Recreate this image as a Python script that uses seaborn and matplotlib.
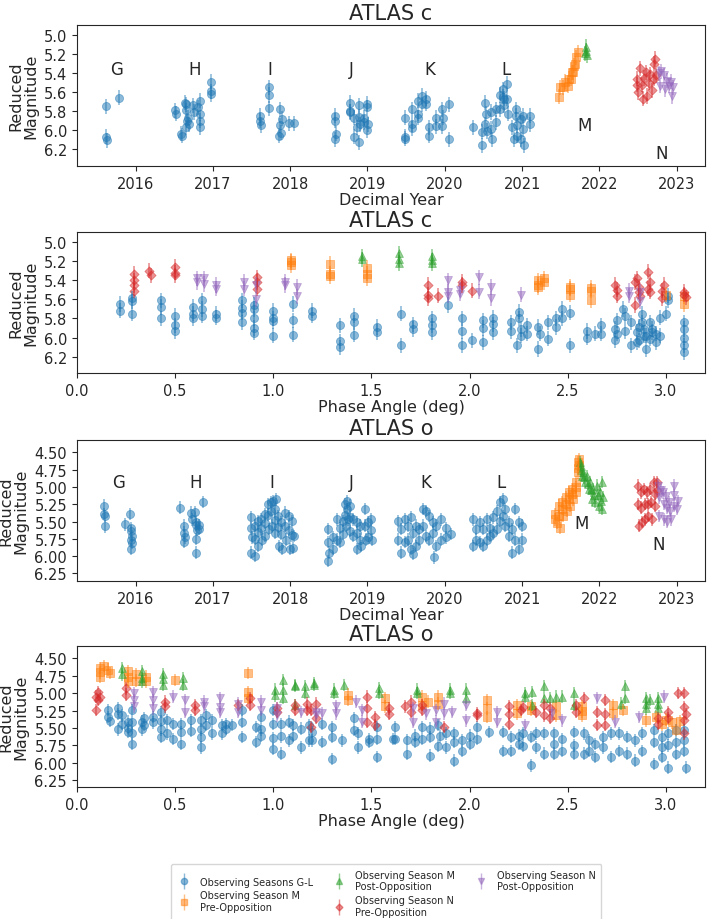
import matplotlib
matplotlib.use("Agg")
import matplotlib.pyplot as plt
from matplotlib.lines import Line2D
import seaborn as sns

# ---- data (decimal year / phase angle, reduced magnitude) ----

# ATLAS c vs decimal year
C_YEAR_GL = [(2015.62, 5.75), (2015.62, 6.07), (2015.63, 6.11), (2015.79, 5.66),
             (2016.51, 5.79), (2016.52, 5.83), (2016.59, 6.04), (2016.60, 6.06),
             (2016.64, 5.71), (2016.65, 5.73), (2016.65, 5.79), (2016.66, 5.90), (2016.65, 5.97),
             (2016.68, 5.87), (2016.69, 5.94), (2016.74, 5.74), (2016.75, 5.81), (2016.81, 5.76),
             (2016.83, 5.83), (2016.83, 5.97), (2016.84, 5.69), (2016.84, 5.90),
             (2016.97, 5.49), (2016.97, 5.59), (2016.98, 5.62),
             (2017.61, 5.85), (2017.61, 5.90), (2017.62, 5.95), (2017.72, 5.55), (2017.72, 5.63),
             (2017.73, 5.77), (2017.87, 5.78), (2017.87, 5.95), (2017.88, 6.03), (2017.86, 6.06),
             (2017.89, 5.88), (2017.98, 5.93), (2018.05, 5.93),
             (2018.58, 5.85), (2018.58, 5.90), (2018.59, 6.04), (2018.58, 6.10),
             (2018.77, 5.71), (2018.77, 5.80), (2018.78, 5.81), (2018.83, 5.87), (2018.83, 6.07),
             (2018.86, 5.97), (2018.89, 5.74), (2018.89, 5.86), (2018.90, 5.94), (2018.89, 6.13),
             (2018.95, 5.87), (2018.95, 5.92), (2019.00, 5.72), (2019.00, 5.76), (2019.01, 5.94),
             (2019.00, 6.00),
             (2019.48, 5.87), (2019.48, 6.07), (2019.49, 6.09), (2019.57, 5.78), (2019.57, 5.94),
             (2019.58, 5.98), (2019.65, 5.69), (2019.65, 5.83), (2019.66, 5.87), (2019.70, 5.64),
             (2019.70, 5.73), (2019.76, 5.67), (2019.76, 5.72), (2019.79, 5.97), (2019.79, 6.06),
             (2019.88, 5.87), (2019.88, 5.96), (2019.97, 5.78), (2019.98, 5.87), (2019.97, 5.96),
             (2020.05, 5.73), (2020.05, 6.10),
             (2020.37, 5.97), (2020.48, 6.02), (2020.48, 6.16), (2020.52, 5.71), (2020.53, 5.83),
             (2020.52, 5.94), (2020.54, 6.01), (2020.60, 5.81), (2020.60, 5.99), (2020.61, 6.10),
             (2020.66, 5.78), (2020.66, 5.92), (2020.71, 5.63), (2020.71, 5.78), (2020.75, 5.57),
             (2020.75, 5.65), (2020.76, 5.67), (2020.77, 5.74), (2020.81, 5.51), (2020.81, 5.67),
             (2020.82, 5.83), (2020.87, 5.97), (2020.90, 6.10), (2020.92, 5.78), (2020.92, 5.85),
             (2020.93, 5.95), (2020.93, 6.06), (2020.98, 5.88), (2020.98, 6.10), (2021.01, 5.85),
             (2021.01, 5.99), (2021.02, 6.16), (2021.10, 5.85), (2021.10, 5.94)]
C_YEAR_M_PRE = [(2021.48, 5.65), (2021.49, 5.55), (2021.53, 5.55), (2021.56, 5.49), (2021.60, 5.53),
                (2021.61, 5.46), (2021.63, 5.46), (2021.65, 5.39), (2021.66, 5.39), (2021.67, 5.32),
                (2021.69, 5.30), (2021.70, 5.23), (2021.72, 5.18)]
C_YEAR_M_POST = [(2021.82, 5.19), (2021.83, 5.16), (2021.83, 5.12), (2021.84, 5.21)]
C_YEAR_N_PRE = [(2022.48, 5.52), (2022.49, 5.46), (2022.50, 5.60), (2022.53, 5.35), (2022.55, 5.52),
                (2022.56, 5.67), (2022.58, 5.45), (2022.60, 5.39), (2022.62, 5.64), (2022.64, 5.50),
                (2022.66, 5.41), (2022.68, 5.58), (2022.70, 5.46), (2022.71, 5.30), (2022.72, 5.25),
                (2022.73, 5.42)]
C_YEAR_N_POST = [(2022.77, 5.40), (2022.78, 5.53), (2022.80, 5.38), (2022.83, 5.42), (2022.85, 5.57),
                 (2022.88, 5.48), (2022.90, 5.53), (2022.92, 5.49), (2022.94, 5.64), (2022.95, 5.55)]

# ATLAS c vs phase angle
C_PHASE_GL = [(0.22, 5.65), (0.22, 5.72), (0.28, 5.59), (0.28, 5.62), (0.28, 5.75),
              (0.43, 5.61), (0.43, 5.68), (0.43, 5.80), (0.50, 5.77), (0.50, 5.87), (0.50, 5.93),
              (0.59, 5.68), (0.59, 5.75), (0.59, 5.80), (0.64, 5.61), (0.64, 5.70), (0.64, 5.77),
              (0.71, 5.75), (0.71, 5.79), (0.84, 5.61), (0.84, 5.69), (0.84, 5.74), (0.84, 5.84),
              (0.90, 5.66), (0.90, 5.70), (0.90, 5.80), (0.90, 5.90), (0.90, 5.95),
              (1.00, 5.72), (1.00, 5.80), (1.00, 5.83), (1.00, 5.98), (1.10, 5.65), (1.10, 5.82),
              (1.10, 5.97), (1.20, 5.72), (1.20, 5.77), (1.34, 5.87), (1.34, 6.04), (1.34, 6.10),
              (1.41, 5.77), (1.41, 5.84), (1.41, 5.97), (1.53, 5.89), (1.53, 5.94),
              (1.65, 5.75), (1.65, 6.08), (1.71, 5.86), (1.71, 5.91), (1.81, 5.80), (1.81, 5.87),
              (1.81, 5.94), (1.89, 5.66), (1.96, 5.80), (1.96, 5.93), (1.96, 6.08), (2.01, 6.03),
              (2.07, 5.82), (2.07, 5.90), (2.07, 6.05), (2.12, 5.79), (2.12, 5.86), (2.12, 5.94),
              (2.21, 5.84), (2.21, 5.93), (2.24, 6.08), (2.25, 5.73), (2.25, 5.80), (2.26, 5.91),
              (2.26, 5.98), (2.29, 5.87), (2.29, 5.96), (2.35, 5.89), (2.35, 6.12), (2.36, 5.96),
              (2.40, 5.84), (2.40, 6.01), (2.44, 5.80), (2.44, 5.89), (2.47, 5.70), (2.47, 5.80),
              (2.51, 6.08), (2.51, 5.74), (2.60, 5.93), (2.60, 6.00), (2.64, 5.96), (2.67, 5.87),
              (2.67, 5.96), (2.74, 5.91), (2.74, 6.03), (2.75, 5.82), (2.75, 5.96), (2.78, 5.70),
              (2.79, 5.77), (2.79, 5.93), (2.82, 5.84), (2.82, 6.08), (2.85, 5.94), (2.85, 6.05),
              (2.86, 5.89), (2.86, 6.03), (2.88, 5.75), (2.88, 5.84), (2.89, 5.91), (2.89, 5.98),
              (2.90, 5.98), (2.90, 6.12), (2.92, 5.84), (2.92, 6.01), (2.93, 5.91), (2.93, 5.94),
              (2.95, 5.96), (2.95, 6.05), (2.97, 5.79), (2.97, 5.98), (3.00, 5.75), (3.01, 5.56),
              (3.01, 5.61), (3.09, 5.84), (3.09, 5.91), (3.09, 6.00), (3.09, 6.08), (3.09, 6.15)]
C_PHASE_M_PRE = [(1.09, 5.19), (1.09, 5.21), (1.09, 5.24), (1.29, 5.23), (1.29, 5.33), (1.29, 5.36),
                 (1.48, 5.27), (1.48, 5.33), (1.48, 5.38), (2.35, 5.40), (2.35, 5.45), (2.35, 5.47),
                 (2.38, 5.38), (2.38, 5.42), (2.51, 5.47), (2.51, 5.49), (2.51, 5.55), (2.62, 5.48),
                 (2.62, 5.51), (2.62, 5.61), (3.00, 5.55), (3.09, 5.57), (3.09, 5.65)]
C_PHASE_M_POST = [(1.45, 5.15), (1.45, 5.18), (1.64, 5.12), (1.64, 5.18), (1.64, 5.22),
                  (1.81, 5.15), (1.81, 5.19), (1.81, 5.22)]
C_PHASE_N_PRE = [(0.29, 5.33), (0.29, 5.40), (0.29, 5.45), (0.29, 5.51), (0.37, 5.30), (0.38, 5.35),
                 (0.50, 5.26), (0.50, 5.32), (0.50, 5.35), (0.92, 5.37), (0.92, 5.42), (0.92, 5.49),
                 (1.79, 5.45), (1.79, 5.55), (1.79, 5.59), (1.84, 5.56), (1.96, 5.42), (1.96, 5.45),
                 (2.01, 5.51), (2.74, 5.45), (2.75, 5.50), (2.75, 5.56), (2.84, 5.42), (2.84, 5.66),
                 (2.85, 5.38), (2.86, 5.52), (2.86, 5.47), (2.87, 5.56), (2.91, 5.31), (2.91, 5.49),
                 (2.92, 5.42), (2.92, 5.52), (2.98, 5.51), (2.98, 5.59), (2.99, 5.45), (3.09, 5.52),
                 (3.09, 5.55), (3.10, 5.58)]
C_PHASE_N_POST = [(0.61, 5.38), (0.61, 5.42), (0.65, 5.38), (0.65, 5.44), (0.71, 5.45), (0.71, 5.49),
                  (0.85, 5.42), (0.85, 5.49), (0.91, 5.45), (0.91, 5.60), (1.06, 5.42), (1.06, 5.45),
                  (1.12, 5.47), (1.12, 5.57), (1.89, 5.40), (1.89, 5.52), (1.89, 5.56), (1.95, 5.50),
                  (1.95, 5.54), (2.05, 5.37), (2.05, 5.52), (2.11, 5.47), (2.11, 5.59), (2.26, 5.55),
                  (2.81, 5.51), (2.81, 5.56), (2.87, 5.52), (2.87, 5.62)]

# ATLAS o vs decimal year
O_YEAR_GL = [(2015.59, 5.27), (2015.59, 5.39), (2015.60, 5.42), (2015.60, 5.57), (2015.86, 5.54),
             (2015.93, 5.39), (2015.94, 5.59), (2015.94, 5.64), (2015.95, 5.71), (2015.94, 5.76),
             (2015.95, 5.81), (2015.94, 5.90),
             (2016.58, 5.30), (2016.63, 5.56), (2016.63, 5.66), (2016.64, 5.73), (2016.63, 5.80),
             (2016.72, 5.37), (2016.73, 5.47), (2016.77, 5.36), (2016.78, 5.50), (2016.78, 5.55),
             (2016.79, 5.62), (2016.78, 5.75), (2016.78, 5.95), (2016.82, 5.55), (2016.82, 5.61),
             (2016.87, 5.22),
             (2017.49, 5.44), (2017.49, 5.60), (2017.50, 5.73), (2017.49, 5.95), (2017.54, 5.56),
             (2017.54, 5.75), (2017.55, 6.00), (2017.58, 5.49), (2017.58, 5.65), (2017.59, 5.85),
             (2017.62, 5.47), (2017.62, 5.60), (2017.63, 5.76), (2017.67, 5.39), (2017.67, 5.52),
             (2017.68, 5.71), (2017.71, 5.25), (2017.71, 5.40), (2017.72, 5.61), (2017.75, 5.22),
             (2017.75, 5.35), (2017.76, 5.56), (2017.78, 5.20), (2017.82, 5.18), (2017.80, 5.32),
             (2017.80, 5.48), (2017.81, 5.66), (2017.84, 5.42), (2017.84, 5.58), (2017.85, 5.85),
             (2017.88, 5.51), (2017.88, 5.68), (2017.89, 5.90), (2017.93, 5.37), (2017.93, 5.56),
             (2017.94, 5.76), (2017.99, 5.42), (2017.99, 5.62), (2018.00, 5.90), (2018.03, 5.49),
             (2018.03, 5.70), (2018.04, 5.88), (2018.05, 5.71),
             (2018.49, 5.61), (2018.49, 5.80), (2018.50, 5.95), (2018.49, 6.07), (2018.55, 5.73),
             (2018.55, 5.90), (2018.60, 5.47), (2018.60, 5.76), (2018.64, 5.59), (2018.64, 5.80),
             (2018.68, 5.49), (2018.68, 5.68), (2018.71, 5.25), (2018.71, 5.40), (2018.72, 5.56),
             (2018.74, 5.20), (2018.74, 5.32), (2018.75, 5.47), (2018.77, 5.27), (2018.77, 5.44),
             (2018.78, 5.63), (2018.81, 5.47), (2018.81, 5.71), (2018.86, 5.51), (2018.86, 5.66),
             (2018.87, 5.90), (2018.90, 5.56), (2018.90, 5.76), (2018.91, 5.85), (2018.97, 5.32),
             (2018.97, 5.56), (2018.98, 5.76), (2019.01, 5.51), (2019.01, 5.73), (2019.05, 5.47),
             (2019.05, 5.62), (2019.06, 5.76),
             (2019.39, 5.49), (2019.39, 5.76), (2019.43, 5.61), (2019.43, 5.95), (2019.48, 5.47),
             (2019.48, 5.80), (2019.52, 5.56), (2019.52, 5.76), (2019.56, 5.44), (2019.56, 5.90),
             (2019.59, 5.66), (2019.59, 5.97), (2019.63, 5.56), (2019.63, 5.85), (2019.67, 5.61),
             (2019.67, 5.76), (2019.72, 5.32), (2019.72, 5.56), (2019.76, 5.35), (2019.76, 5.71),
             (2019.80, 5.42), (2019.80, 5.76), (2019.85, 5.51), (2019.85, 5.66), (2019.86, 6.02),
             (2019.89, 5.56), (2019.89, 5.85), (2019.95, 5.47), (2019.95, 5.76), (2020.02, 5.59),
             (2020.02, 5.73), (2020.08, 5.68),
             (2020.37, 5.47), (2020.37, 5.85), (2020.41, 5.61), (2020.41, 5.76), (2020.46, 5.51),
             (2020.46, 5.80), (2020.50, 5.61), (2020.50, 5.85), (2020.54, 5.47), (2020.54, 5.76),
             (2020.59, 5.59), (2020.59, 5.71), (2020.63, 5.44), (2020.63, 5.66), (2020.67, 5.35),
             (2020.67, 5.61), (2020.72, 5.22), (2020.72, 5.49), (2020.75, 5.18), (2020.75, 5.42),
             (2020.78, 5.32), (2020.78, 5.56), (2020.83, 5.51), (2020.83, 5.71), (2020.87, 5.61),
             (2020.87, 5.95), (2020.91, 5.32), (2020.91, 5.76), (2020.96, 5.51), (2020.96, 5.90),
             (2021.00, 5.56), (2021.00, 5.76)]
O_YEAR_M_PRE = [(2021.43, 5.39), (2021.43, 5.47), (2021.45, 5.52), (2021.48, 5.27), (2021.48, 5.42),
                (2021.49, 5.59), (2021.52, 5.22), (2021.52, 5.32), (2021.53, 5.42), (2021.57, 5.15),
                (2021.57, 5.25), (2021.58, 5.35), (2021.61, 5.08), (2021.61, 5.18), (2021.62, 5.27),
                (2021.65, 5.03), (2021.65, 5.10), (2021.66, 5.18), (2021.70, 4.93), (2021.70, 5.00),
                (2021.70, 5.08), (2021.72, 4.64), (2021.72, 4.72), (2021.72, 4.79), (2021.74, 4.60),
                (2021.73, 4.68)]
O_YEAR_M_POST = [(2021.75, 4.64), (2021.76, 4.70), (2021.76, 4.76), (2021.77, 4.84), (2021.79, 4.79),
                 (2021.80, 4.86), (2021.81, 4.93), (2021.84, 4.84), (2021.85, 4.95), (2021.86, 5.03),
                 (2021.88, 4.93), (2021.89, 5.05), (2021.90, 5.18), (2021.92, 5.03), (2021.93, 5.12),
                 (2021.94, 5.22), (2021.97, 4.98), (2021.98, 5.12), (2021.99, 5.27), (2022.01, 5.08),
                 (2022.02, 5.20), (2022.03, 5.32), (2022.04, 4.93), (2022.05, 5.15)]
O_YEAR_N_PRE = [(2022.50, 4.98), (2022.50, 5.25), (2022.51, 5.56), (2022.54, 5.08), (2022.54, 5.30),
                (2022.55, 5.51), (2022.58, 5.03), (2022.59, 5.25), (2022.59, 5.47), (2022.62, 5.08),
                (2022.63, 5.25), (2022.63, 5.42), (2022.66, 5.03), (2022.67, 5.22), (2022.68, 5.47),
                (2022.71, 4.93), (2022.72, 5.10), (2022.72, 5.27), (2022.74, 4.93), (2022.74, 5.05)]
O_YEAR_N_POST = [(2022.76, 4.98), (2022.77, 5.15), (2022.77, 5.42), (2022.80, 5.05), (2022.82, 5.08),
                 (2022.83, 5.25), (2022.84, 5.47), (2022.86, 5.13), (2022.87, 5.30), (2022.88, 5.51),
                 (2022.90, 5.22), (2022.91, 5.35), (2022.92, 5.47), (2022.96, 4.98), (2022.97, 5.12),
                 (2022.97, 5.27), (2023.00, 5.32), (2023.02, 5.20)]

# ATLAS o vs phase angle
O_PHASE_GL = [(0.16, 5.24), (0.16, 5.34), (0.17, 5.40), (0.21, 5.22), (0.21, 5.30), (0.21, 5.52),
              (0.23, 5.32), (0.23, 5.44), (0.26, 5.41), (0.26, 5.50), (0.26, 5.56), (0.28, 5.24),
              (0.28, 5.42), (0.28, 5.58), (0.28, 5.73), (0.33, 5.41), (0.33, 5.52), (0.34, 5.36),
              (0.34, 5.46), (0.39, 5.34), (0.39, 5.42), (0.43, 5.27), (0.43, 5.40), (0.43, 5.52),
              (0.43, 5.63), (0.46, 5.39), (0.46, 5.58), (0.49, 5.44), (0.49, 5.66), (0.53, 5.44),
              (0.53, 5.56), (0.53, 5.73), (0.58, 5.39), (0.58, 5.54), (0.63, 5.39), (0.63, 5.52),
              (0.63, 5.63), (0.63, 5.78), (0.66, 5.32), (0.66, 5.46), (0.69, 5.39), (0.69, 5.58),
              (0.74, 5.46), (0.74, 5.58), (0.76, 5.44), (0.76, 5.51), (0.79, 5.46), (0.84, 5.24),
              (0.84, 5.41), (0.84, 5.63), (0.91, 5.49), (0.91, 5.70), (0.94, 5.34), (0.94, 5.52),
              (0.94, 5.61), (1.00, 5.24), (1.00, 5.44), (1.00, 5.65), (1.00, 5.80), (1.04, 5.44),
              (1.04, 5.62), (1.04, 5.87), (1.08, 5.41), (1.08, 5.68), (1.10, 5.46), (1.10, 5.61),
              (1.14, 5.51), (1.14, 5.78), (1.18, 5.46), (1.18, 5.68), (1.20, 5.56), (1.20, 5.68),
              (1.25, 5.44), (1.25, 5.70), (1.30, 5.49), (1.30, 5.63), (1.30, 5.95), (1.35, 5.68),
              (1.41, 5.36), (1.41, 5.53), (1.43, 5.58), (1.43, 5.78), (1.49, 5.66), (1.49, 5.70),
              (1.53, 5.49), (1.53, 5.66), (1.53, 5.92), (1.61, 5.66), (1.62, 5.49), (1.62, 5.66),
              (1.68, 5.68), (1.68, 5.87), (1.72, 5.61), (1.72, 5.70), (1.76, 5.49), (1.76, 5.66),
              (1.80, 5.51), (1.80, 5.63), (1.80, 5.90), (1.84, 5.46), (1.84, 5.76), (1.85, 5.62),
              (1.88, 5.58), (1.88, 5.78), (1.92, 5.58), (1.92, 5.70), (1.92, 5.97), (1.96, 5.68),
              (1.96, 5.83), (2.00, 5.61), (2.00, 5.73), (2.04, 5.49), (2.04, 5.66), (2.10, 5.56),
              (2.17, 5.56), (2.17, 5.83), (2.21, 5.63), (2.21, 5.83), (2.25, 5.61), (2.25, 5.73),
              (2.27, 5.58), (2.27, 5.76), (2.31, 5.63), (2.31, 6.04), (2.34, 5.58), (2.34, 5.78),
              (2.38, 5.58), (2.38, 5.87), (2.43, 5.58), (2.43, 5.73), (2.43, 5.87), (2.47, 5.66),
              (2.47, 5.83), (2.53, 5.56), (2.53, 5.75), (2.53, 5.87), (2.58, 5.58), (2.58, 5.87),
              (2.61, 5.68), (2.61, 5.83), (2.64, 5.73), (2.64, 5.92), (2.68, 5.63), (2.68, 5.78),
              (2.72, 5.58), (2.72, 5.92), (2.76, 5.58), (2.76, 5.83), (2.80, 5.63), (2.80, 5.87),
              (2.84, 5.68), (2.84, 5.97), (2.88, 5.58), (2.88, 5.83), (2.94, 5.53), (2.94, 5.70),
              (2.94, 6.02), (2.98, 5.63), (2.98, 5.78), (2.98, 5.92), (3.01, 5.58), (3.01, 5.75),
              (3.01, 6.07), (3.05, 5.53), (3.05, 5.70), (3.05, 5.87), (3.09, 5.53), (3.09, 5.68),
              (3.09, 5.83), (3.10, 6.07)]
O_PHASE_M_PRE = [(0.12, 4.64), (0.12, 4.70), (0.12, 4.76), (0.14, 4.61), (0.16, 4.66), (0.17, 4.71),
                 (0.26, 4.68), (0.26, 4.76), (0.26, 4.83), (0.30, 4.73), (0.30, 4.82), (0.35, 4.76),
                 (0.35, 4.83), (0.50, 4.81), (0.87, 4.71), (0.87, 4.98), (0.87, 5.07), (1.38, 5.02),
                 (1.38, 5.10), (1.57, 5.07), (1.57, 5.19), (1.76, 5.05), (1.76, 5.17), (1.79, 5.12),
                 (1.84, 5.05), (1.84, 5.15), (2.09, 5.10), (2.09, 5.22), (2.09, 5.34), (2.24, 5.17),
                 (2.24, 5.29), (2.31, 5.19), (2.31, 5.24), (2.44, 5.19), (2.44, 5.32), (2.57, 5.19),
                 (2.57, 5.26), (2.57, 5.32), (2.73, 5.17), (2.73, 5.29), (2.78, 5.24), (2.90, 5.39),
                 (2.95, 5.34), (2.98, 5.45), (3.00, 5.38), (3.03, 5.42), (3.05, 5.53), (3.07, 5.40)]
O_PHASE_M_POST = [(0.23, 4.64), (0.23, 4.73), (0.33, 4.68), (0.33, 4.78), (0.33, 4.83), (0.44, 4.73),
                  (0.44, 4.80), (0.44, 4.88), (0.54, 4.78), (0.54, 4.88), (1.01, 4.95), (1.01, 5.03),
                  (1.05, 4.81), (1.05, 4.95), (1.05, 5.07), (1.11, 4.88), (1.11, 4.90), (1.11, 5.17),
                  (1.16, 4.90), (1.16, 5.00), (1.21, 4.85), (1.21, 4.88), (1.31, 4.95), (1.31, 5.00),
                  (1.36, 4.88), (1.54, 4.93), (1.54, 5.00), (1.73, 4.95), (1.73, 5.00), (1.90, 4.95),
                  (1.90, 5.00), (1.98, 4.95), (1.98, 5.07), (2.28, 5.00), (2.28, 5.05), (2.32, 4.98),
                  (2.32, 5.17), (2.38, 4.90), (2.38, 5.07), (2.41, 5.07), (2.44, 5.05), (2.47, 5.05),
                  (2.53, 5.00), (2.53, 5.17), (2.77, 5.15), (2.79, 4.90), (2.79, 5.07), (2.90, 5.07),
                  (2.90, 5.15), (2.90, 5.22), (2.92, 5.10), (2.96, 5.07), (2.96, 5.15), (2.96, 5.22)]
O_PHASE_N_PRE = [(0.10, 5.05), (0.10, 5.24), (0.11, 4.98), (0.11, 5.10), (0.12, 5.05), (0.25, 4.93),
                 (0.25, 5.02), (0.45, 5.12), (0.45, 5.19), (0.60, 5.17), (0.60, 5.24), (0.82, 5.17),
                 (0.88, 5.07), (0.88, 5.17), (1.02, 5.22), (1.02, 5.27), (1.11, 5.17), (1.11, 5.24),
                 (1.17, 5.15), (1.17, 5.24), (1.19, 5.24), (1.19, 5.49), (1.22, 5.15), (1.22, 5.36),
                 (1.48, 5.05), (1.48, 5.22), (1.48, 5.41), (1.52, 5.34), (1.52, 5.46), (1.59, 5.22),
                 (1.59, 5.30), (1.67, 5.19), (1.70, 5.12), (1.70, 5.27), (1.76, 5.17), (1.76, 5.24),
                 (1.87, 5.49), (2.04, 5.29), (2.04, 5.32), (2.20, 5.19), (2.20, 5.30), (2.20, 5.44),
                 (2.26, 5.24), (2.27, 5.20), (2.34, 5.27), (2.38, 5.17), (2.38, 5.32), (2.41, 5.22),
                 (2.41, 5.35), (2.54, 5.17), (2.54, 5.27), (2.58, 5.07), (2.65, 5.27), (2.65, 5.46),
                 (2.69, 5.10), (2.69, 5.30), (2.69, 5.46), (2.96, 5.36), (2.96, 5.44), (3.01, 5.27),
                 (3.01, 5.36), (3.06, 5.00), (3.09, 5.00), (3.09, 5.20), (3.09, 5.38), (3.09, 5.58),
                 (3.10, 5.30)]
O_PHASE_N_POST = [(0.29, 5.00), (0.29, 5.10), (0.29, 5.19), (0.39, 4.98), (0.39, 5.10), (0.39, 5.22),
                  (0.49, 5.05), (0.55, 5.10), (0.55, 5.27), (0.65, 5.12), (0.65, 5.19), (0.73, 5.07),
                  (0.73, 5.20), (0.73, 5.27), (0.82, 5.15), (0.82, 5.27), (0.94, 5.12), (0.94, 5.24),
                  (1.02, 5.22), (1.02, 5.32), (1.14, 5.27), (1.22, 5.27), (1.22, 5.32), (1.25, 5.29),
                  (1.32, 5.19), (1.32, 5.29), (1.42, 5.12), (1.45, 5.24), (1.45, 5.41), (1.71, 5.22),
                  (1.71, 5.41), (1.78, 5.29), (1.83, 5.24), (1.83, 5.41), (1.87, 5.15), (1.87, 5.29),
                  (1.91, 5.27), (1.98, 5.17), (1.98, 5.39), (2.14, 5.27), (2.14, 5.41), (2.28, 5.46),
                  (2.42, 5.29), (2.47, 5.39), (2.65, 5.07), (2.74, 5.41), (2.86, 5.34), (2.99, 5.05)]

YERR_C = 0.08
YERR_O = 0.09

SEASON_KEYS = ["gl", "m_pre", "m_post", "n_pre", "n_post"]
SEASON_LABELS = ["Observing Seasons G-L",
                 "Observing Season M\nPre-Opposition",
                 "Observing Season M\nPost-Opposition",
                 "Observing Season N\nPre-Opposition",
                 "Observing Season N\nPost-Opposition"]

# letters marking the observing seasons: (label, year, magnitude)
C_SEASON_TEXT = [("G", 2015.75, 5.36), ("H", 2016.77, 5.36), ("I", 2017.74, 5.36),
                 ("J", 2018.79, 5.36), ("K", 2019.80, 5.36), ("L", 2020.79, 5.36),
                 ("M", 2021.81, 5.95), ("N", 2022.81, 6.24)]
O_SEASON_TEXT = [("G", 2015.78, 4.93), ("H", 2016.78, 4.93), ("I", 2017.76, 4.93),
                 ("J", 2018.79, 4.93), ("K", 2019.76, 4.93), ("L", 2020.73, 4.93),
                 ("M", 2021.77, 5.52), ("N", 2022.76, 5.83)]

# ---- styling ----
sns.set_style("ticks")
plt.rcParams['font.family'] = ['DejaVu Sans']
pal = sns.color_palette("tab10")
STYLE = {"gl": (pal[0], "o", 34), "m_pre": (pal[1], "s", 30), "m_post": (pal[2], "^", 32),
         "n_pre": (pal[3], "D", 22), "n_post": (pal[4], "v", 32)}


def draw_series(ax, pts, err, key):
    col, mk, size = STYLE[key]
    xs = [p[0] for p in pts]
    ys = [p[1] for p in pts]
    ax.errorbar(xs, ys, yerr=err, fmt='none', ecolor=col, alpha=0.5, elinewidth=1.2)
    sns.scatterplot(x=xs, y=ys, ax=ax, color=col, marker=mk, s=size, alpha=0.5,
                    edgecolor=col, linewidth=0.6, legend=False)


def style_axes(ax, title, xlabel, ylim, yticks, ylabels):
    ax.set_title(title, fontsize=15, pad=4)
    ax.set_xlabel(xlabel, fontsize=11.5, labelpad=1)
    ax.set_ylabel("Reduced\nMagnitude", fontsize=11.5, labelpad=4, linespacing=1.0)
    ax.set_ylim(*ylim)
    ax.set_yticks(yticks)
    ax.set_yticklabels(ylabels)
    ax.tick_params(labelsize=10.5, length=3.5, width=0.8)
    for sp in ax.spines.values():
        sp.set_linewidth(0.8)


fig = plt.figure(figsize=(7.11, 9.2), dpi=100)
left, width, height = 0.108, 0.884, 0.1533
ax1 = fig.add_axes([left, 0.8185, width, height])
ax2 = fig.add_axes([left, 0.5935, width, height])
ax3 = fig.add_axes([left, 0.3674, width, height])
ax4 = fig.add_axes([left, 0.1435, width, height])

c_year = [C_YEAR_GL, C_YEAR_M_PRE, C_YEAR_M_POST, C_YEAR_N_PRE, C_YEAR_N_POST]
c_phase = [C_PHASE_GL, C_PHASE_M_PRE, C_PHASE_M_POST, C_PHASE_N_PRE, C_PHASE_N_POST]
o_year = [O_YEAR_GL, O_YEAR_M_PRE, O_YEAR_M_POST, O_YEAR_N_PRE, O_YEAR_N_POST]
o_phase = [O_PHASE_GL, O_PHASE_M_PRE, O_PHASE_M_POST, O_PHASE_N_PRE, O_PHASE_N_POST]

for ax, sets, err in [(ax1, c_year, YERR_C), (ax2, c_phase, YERR_C),
                      (ax3, o_year, YERR_O), (ax4, o_phase, YERR_O)]:
    for pts, key in zip(sets, SEASON_KEYS):
        draw_series(ax, pts, err, key)

c_ticks = [5.0, 5.2, 5.4, 5.6, 5.8, 6.0, 6.2]
o_ticks = [4.50, 4.75, 5.00, 5.25, 5.50, 5.75, 6.00, 6.25]
style_axes(ax1, "ATLAS c", "Decimal Year", (6.38, 4.89), c_ticks, [f"{t:.1f}" for t in c_ticks])
style_axes(ax2, "ATLAS c", "Phase Angle (deg)", (6.37, 4.895), c_ticks, [f"{t:.1f}" for t in c_ticks])
style_axes(ax3, "ATLAS o", "Decimal Year", (6.36, 4.32), o_ticks, [f"{t:.2f}" for t in o_ticks])
style_axes(ax4, "ATLAS o", "Phase Angle (deg)", (6.35, 4.32), o_ticks, [f"{t:.2f}" for t in o_ticks])

for ax in (ax1, ax3):
    ax.set_xlim(2015.24, 2023.37)
    ax.set_xticks(range(2016, 2024))
for ax in (ax2, ax4):
    ax.set_xlim(0, 3.2)
    ax.set_xticks([0.0, 0.5, 1.0, 1.5, 2.0, 2.5, 3.0])

for ax, texts in ((ax1, C_SEASON_TEXT), (ax3, O_SEASON_TEXT)):
    for lab, xv, yv in texts:
        ax.text(xv, yv, lab, fontsize=12, ha='center', va='center')

# legend: marker plus vertical error line
handles = []
for key in SEASON_KEYS:
    col, mk, size = STYLE[key]
    bar = Line2D([], [], color=col, marker='|', markersize=11, linestyle='none', alpha=0.5)
    dot = Line2D([], [], color=col, marker=mk, markersize=4.5 if mk != 'D' else 3.5,
                 linestyle='none', alpha=0.5)
    handles.append((bar, dot))
fig.legend(handles, SEASON_LABELS, loc='upper left', bbox_to_anchor=(0.2335, 0.0652),
           ncol=3, fontsize=7, handlelength=1.6, columnspacing=1.9, labelspacing=0.4,
           borderpad=0.6, frameon=True, edgecolor='#cccccc')

fig.savefig("out.png", dpi=100)
